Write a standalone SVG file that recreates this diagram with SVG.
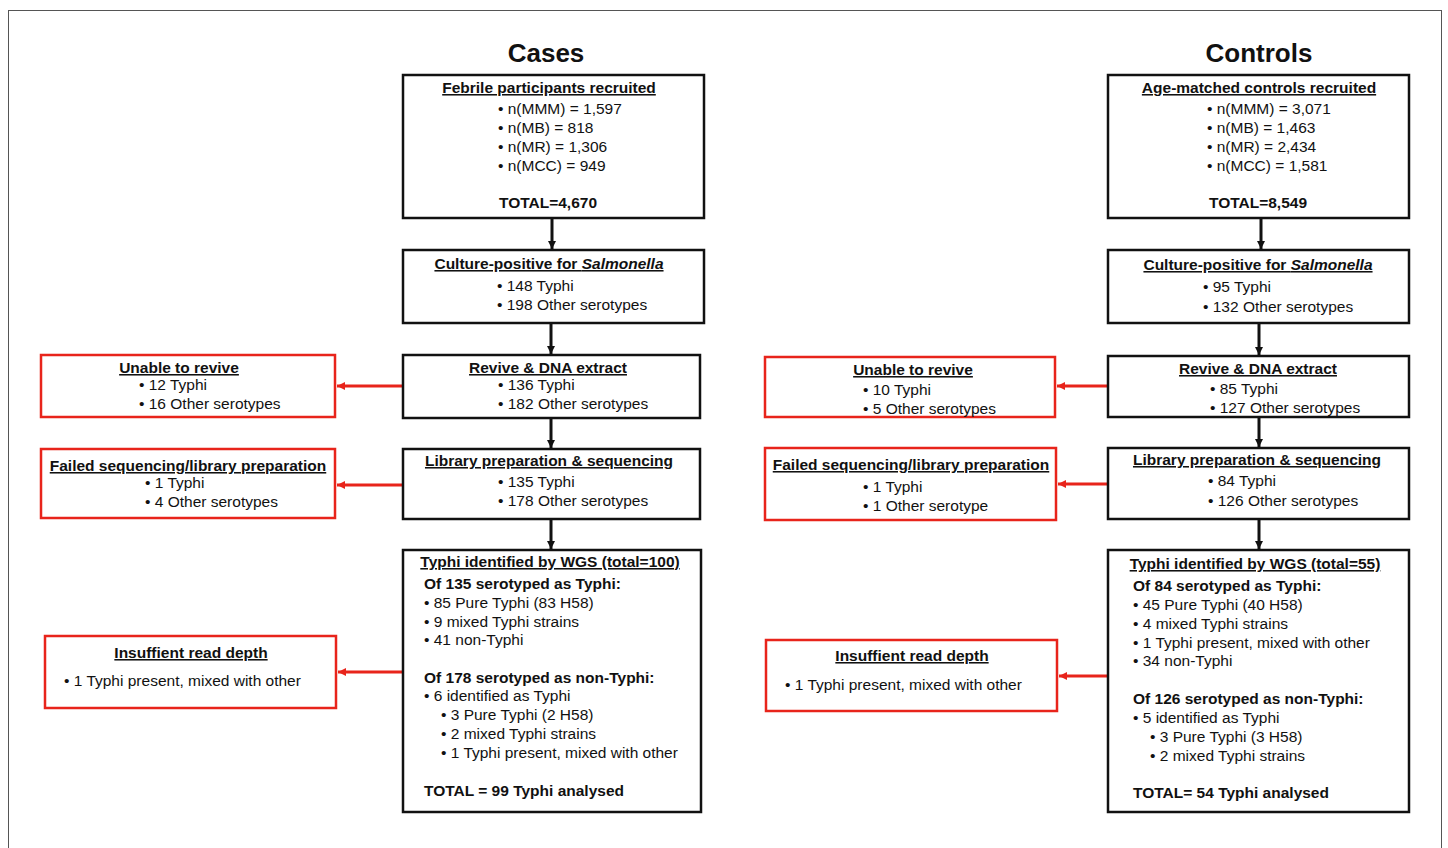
<svg xmlns="http://www.w3.org/2000/svg" width="1448" height="848" viewBox="0 0 1448 848">
<style>
text{font-family:"Liberation Sans",Arial,sans-serif;font-size:15.5px;fill:#111}
.t{font-size:26px;font-weight:bold;text-anchor:middle}
.h{font-weight:bold;text-decoration:underline;text-anchor:middle}
.b{font-weight:bold}
.c{text-anchor:middle}
.bx{fill:#fff;stroke:#111;stroke-width:2.5}
.rb{fill:#fff;stroke:#e8241b;stroke-width:2.5}
.ka{stroke:#111;stroke-width:3;fill:none}
.ra{stroke:#e8241b;stroke-width:3;fill:none}
</style>
<defs>
<marker id="ak" markerUnits="userSpaceOnUse" markerWidth="10" markerHeight="10" refX="8" refY="5" orient="auto"><path d="M0,1 L8,5 L0,9 Z" fill="#111"/></marker>
<marker id="ar" markerUnits="userSpaceOnUse" markerWidth="10" markerHeight="10" refX="8" refY="5" orient="auto"><path d="M0,1 L8,5 L0,9 Z" fill="#e8241b"/></marker>
</defs>
<rect x="0" y="0" width="1448" height="848" fill="#fff"/>
<rect x="8.5" y="10.5" width="1433" height="860" fill="none" stroke="#555" stroke-width="1"/>
<text class="t" x="546" y="62">Cases</text>
<text class="t" x="1259" y="62">Controls</text>
<g id="connectors">
<line class="ka" x1="552" y1="218" x2="552" y2="249" marker-end="url(#ak)"/>
<line class="ka" x1="551" y1="323" x2="551" y2="354" marker-end="url(#ak)"/>
<line class="ka" x1="551" y1="418" x2="551" y2="448" marker-end="url(#ak)"/>
<line class="ka" x1="551" y1="519" x2="551" y2="549" marker-end="url(#ak)"/>
<line class="ra" x1="403" y1="386" x2="337" y2="386" marker-end="url(#ar)"/>
<line class="ra" x1="403" y1="485" x2="337" y2="485" marker-end="url(#ar)"/>
<line class="ra" x1="403" y1="672" x2="338" y2="672" marker-end="url(#ar)"/>
<line class="ka" x1="1261" y1="218" x2="1261" y2="249" marker-end="url(#ak)"/>
<line class="ka" x1="1259" y1="323" x2="1259" y2="355" marker-end="url(#ak)"/>
<line class="ka" x1="1259" y1="417" x2="1259" y2="447" marker-end="url(#ak)"/>
<line class="ka" x1="1259" y1="519" x2="1259" y2="549" marker-end="url(#ak)"/>
<line class="ra" x1="1108" y1="386" x2="1057" y2="386" marker-end="url(#ar)"/>
<line class="ra" x1="1108" y1="484" x2="1058" y2="484" marker-end="url(#ar)"/>
<line class="ra" x1="1108" y1="676" x2="1059" y2="676" marker-end="url(#ar)"/>
</g>
<g id="cases-recruited">
<rect class="bx" x="403" y="75" width="301" height="143"/>
<text class="h" x="549" y="93">Febrile participants recruited</text>
<text x="498" y="114">• n(MMM) = 1,597</text>
<text x="498" y="133">• n(MB) = 818</text>
<text x="498" y="152">• n(MR) = 1,306</text>
<text x="498" y="171">• n(MCC) = 949</text>
<text class="b c" x="548" y="208">TOTAL=4,670</text>
</g>
<g id="cases-culture">
<rect class="bx" x="403" y="250" width="301" height="73"/>
<text class="h" x="549" y="269">Culture-positive for <tspan font-style="italic">Salmonella</tspan></text>
<text x="497" y="291">• 148 Typhi</text>
<text x="497" y="310">• 198 Other serotypes</text>
</g>
<g id="cases-revive">
<rect class="bx" x="403" y="355" width="297" height="63"/>
<text class="h" x="548" y="373">Revive &amp; DNA extract</text>
<text x="498" y="390">• 136 Typhi</text>
<text x="498" y="409">• 182 Other serotypes</text>
</g>
<g id="cases-library">
<rect class="bx" x="403" y="449" width="297" height="70"/>
<text class="h" x="549" y="466">Library preparation &amp; sequencing</text>
<text x="498" y="487">• 135 Typhi</text>
<text x="498" y="506">• 178 Other serotypes</text>
</g>
<g id="cases-wgs">
<rect class="bx" x="403" y="550" width="298" height="262"/>
<text class="h" x="550" y="567">Typhi identified by WGS (total=100)</text>
<text class="b" x="424" y="589">Of 135 serotyped as Typhi:</text>
<text x="424" y="608">• 85 Pure Typhi (83 H58)</text>
<text x="424" y="627">• 9 mixed Typhi strains</text>
<text x="424" y="645">• 41 non-Typhi</text>
<text class="b" x="424" y="683">Of 178 serotyped as non-Typhi:</text>
<text x="424" y="701">• 6 identified as Typhi</text>
<text x="441" y="720">• 3 Pure Typhi (2 H58)</text>
<text x="441" y="739">• 2 mixed Typhi strains</text>
<text x="441" y="758">• 1 Typhi present, mixed with other</text>
<text class="b" x="424" y="796">TOTAL = 99 Typhi analysed</text>
</g>
<g id="cases-unable">
<rect class="rb" x="41" y="355" width="294" height="62"/>
<text class="h" x="179" y="373">Unable to revive</text>
<text x="139" y="390">• 12 Typhi</text>
<text x="139" y="409">• 16 Other serotypes</text>
</g>
<g id="cases-failed">
<rect class="rb" x="41" y="449" width="294" height="69"/>
<text class="h" x="188" y="471">Failed sequencing/library preparation</text>
<text x="145" y="488">• 1 Typhi</text>
<text x="145" y="507">• 4 Other serotypes</text>
</g>
<g id="cases-insufficient">
<rect class="rb" x="45" y="636" width="291" height="72"/>
<text class="h" x="191" y="658">Insuffient read depth</text>
<text x="64" y="686">• 1 Typhi present, mixed with other</text>
</g>
<g id="controls-recruited">
<rect class="bx" x="1108" y="75" width="301" height="143"/>
<text class="h" x="1259" y="93">Age-matched controls recruited</text>
<text x="1207" y="114">• n(MMM) = 3,071</text>
<text x="1207" y="133">• n(MB) = 1,463</text>
<text x="1207" y="152">• n(MR) = 2,434</text>
<text x="1207" y="171">• n(MCC) = 1,581</text>
<text class="b c" x="1258" y="208">TOTAL=8,549</text>
</g>
<g id="controls-culture">
<rect class="bx" x="1108" y="250" width="301" height="73"/>
<text class="h" x="1258" y="270">Culture-positive for <tspan font-style="italic">Salmonella</tspan></text>
<text x="1203" y="292">• 95 Typhi</text>
<text x="1203" y="312">• 132 Other serotypes</text>
</g>
<g id="controls-revive">
<rect class="bx" x="1108" y="356" width="301" height="61"/>
<text class="h" x="1258" y="374">Revive &amp; DNA extract</text>
<text x="1210" y="394">• 85 Typhi</text>
<text x="1210" y="413">• 127 Other serotypes</text>
</g>
<g id="controls-library">
<rect class="bx" x="1108" y="448" width="301" height="71"/>
<text class="h" x="1257" y="465">Library preparation &amp; sequencing</text>
<text x="1208" y="486">• 84 Typhi</text>
<text x="1208" y="506">• 126 Other serotypes</text>
</g>
<g id="controls-wgs">
<rect class="bx" x="1108" y="550" width="301" height="262"/>
<text class="h" x="1255" y="569">Typhi identified by WGS (total=55)</text>
<text class="b" x="1133" y="591">Of 84 serotyped as Typhi:</text>
<text x="1133" y="610">• 45 Pure Typhi (40 H58)</text>
<text x="1133" y="629">• 4 mixed Typhi strains</text>
<text x="1133" y="648">• 1 Typhi present, mixed with other</text>
<text x="1133" y="666">• 34 non-Typhi</text>
<text class="b" x="1133" y="704">Of 126 serotyped as non-Typhi:</text>
<text x="1133" y="723">• 5 identified as Typhi</text>
<text x="1150" y="742">• 3 Pure Typhi (3 H58)</text>
<text x="1150" y="761">• 2 mixed Typhi strains</text>
<text class="b" x="1133" y="798">TOTAL= 54 Typhi analysed</text>
</g>
<g id="controls-unable">
<rect class="rb" x="765" y="357" width="290" height="60"/>
<text class="h" x="913" y="375">Unable to revive</text>
<text x="863" y="395">• 10 Typhi</text>
<text x="863" y="414">• 5 Other serotypes</text>
</g>
<g id="controls-failed">
<rect class="rb" x="765" y="448" width="291" height="72"/>
<text class="h" x="911" y="470">Failed sequencing/library preparation</text>
<text x="863" y="492">• 1 Typhi</text>
<text x="863" y="511">• 1 Other serotype</text>
</g>
<g id="controls-insufficient">
<rect class="rb" x="766" y="640" width="291" height="71"/>
<text class="h" x="912" y="661">Insuffient read depth</text>
<text x="785" y="690">• 1 Typhi present, mixed with other</text>
</g>
</svg>
